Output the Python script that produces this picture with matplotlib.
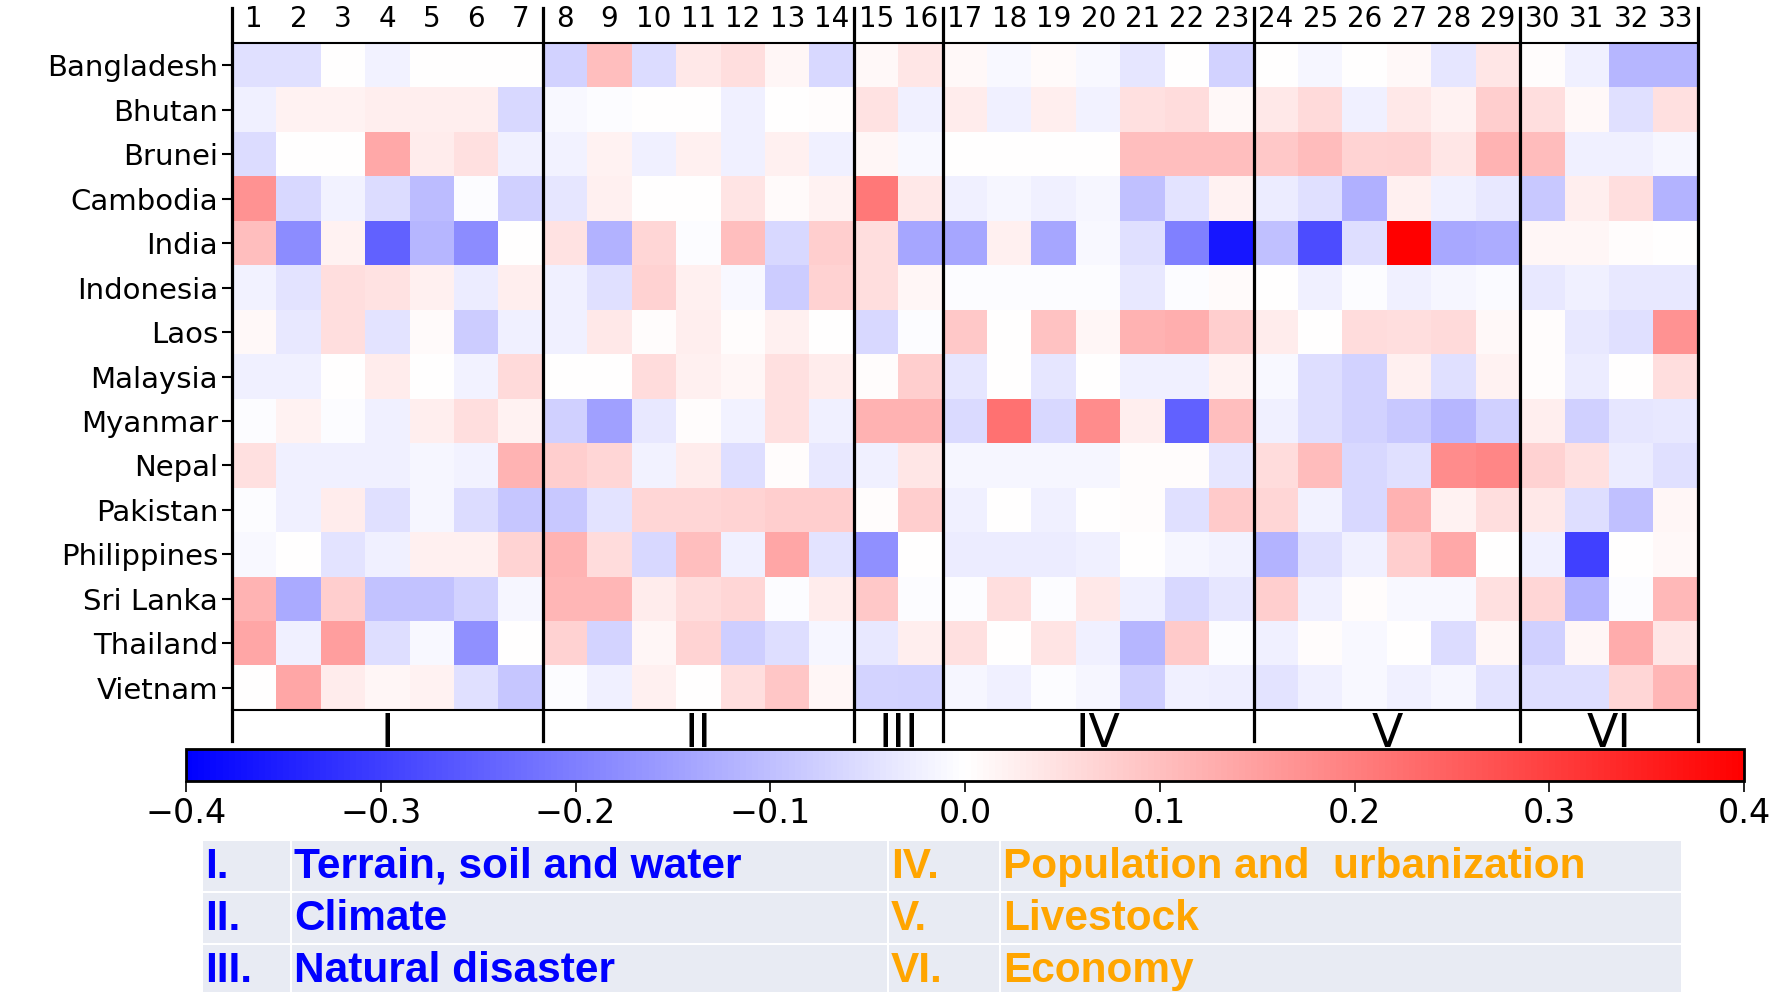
import numpy as np
import matplotlib.pyplot as plt
from matplotlib.patches import Rectangle

W, H = 1787, 992

countries = ['Bangladesh', 'Bhutan', 'Brunei', 'Cambodia', 'India', 'Indonesia', 'Laos',
             'Malaysia', 'Myanmar', 'Nepal', 'Pakistan', 'Philippines', 'Sri Lanka',
             'Thailand', 'Vietnam']
indicators = [str(i) for i in range(1, 34)]
group_labels = ['I', 'II', 'III', 'IV', 'V', 'VI']
group_sizes = [7, 7, 2, 7, 6, 4]
group_numerals = ['I.', 'II.', 'III.', 'IV.', 'V.', 'VI.']
group_names = ['Terrain, soil and water', 'Climate', 'Natural disaster',
               'Population and  urbanization', 'Livestock', 'Economy']

# correlation values per country, indicators 1..33
bangladesh = [-0.05, -0.05, 0.003, -0.02, 0.0, 0.0, 0.0, -0.07, 0.10, -0.055, 0.035, 0.05, 0.015, -0.06,
              0.01, 0.04, 0.01, -0.01, 0.008, -0.01, -0.04, 0.0, -0.07, 0.0, -0.015, 0.0, 0.01, -0.04,
              0.04, 0.005, -0.025, -0.115, -0.115]
bhutan = [-0.025, 0.02, 0.02, 0.025, 0.025, 0.025, -0.06, -0.01, -0.005, 0.0, 0.0, -0.025, 0.0, 0.004,
          0.045, -0.025, 0.03, -0.025, 0.025, -0.02, 0.047, 0.055, 0.01, 0.037, 0.058, -0.025, 0.037, 0.02,
          0.075, 0.05, 0.01, -0.05, 0.047]
brunei = [-0.055, 0.0, 0.0, 0.135, 0.03, 0.047, -0.022, -0.02, 0.02, -0.022, 0.024, -0.022, 0.024, -0.025,
          0.015, -0.01, 0.0, 0.0, 0.0, 0.0, 0.1, 0.1, 0.1, 0.086, 0.105, 0.068, 0.07, 0.04,
          0.118, 0.105, -0.022, -0.022, -0.015]
cambodia = [0.17, -0.06, -0.02, -0.055, -0.105, -0.005, -0.075, -0.04, 0.022, 0.0, 0.0, 0.042, 0.007, 0.02,
            0.21, 0.037, -0.025, -0.015, -0.025, -0.015, -0.1, -0.042, 0.02, -0.03, -0.05, -0.125, 0.022, -0.025,
            -0.035, -0.085, 0.025, 0.05, -0.117]
india = [0.1, -0.18, 0.02, -0.245, -0.115, -0.18, 0.0, 0.045, -0.12, 0.063, -0.005, 0.1, -0.06, 0.075,
         0.05, -0.14, -0.14, 0.022, -0.14, -0.01, -0.047, -0.2, -0.365, -0.1, -0.28, -0.052, 0.4, -0.135,
         -0.13, 0.015, 0.015, 0.005, 0.002]
indonesia = [-0.02, -0.042, 0.052, 0.045, 0.022, -0.03, 0.027, -0.022, -0.05, 0.07, 0.022, -0.01, -0.08, 0.07,
             0.05, 0.015, -0.005, -0.005, -0.005, -0.005, -0.035, -0.005, 0.007, 0.0, -0.022, -0.005, -0.022, -0.015,
             -0.007, -0.035, -0.022, -0.035, -0.035]
laos = [0.01, -0.035, 0.05, -0.042, 0.007, -0.08, -0.025, -0.022, 0.037, 0.005, 0.027, 0.006, 0.024, 0.0,
        -0.06, -0.005, 0.086, 0.0, 0.094, 0.015, 0.12, 0.125, 0.078, 0.031, 0.0, 0.055, 0.052, 0.058,
        0.01, 0.006, -0.035, -0.047, 0.17]
malaysia = [-0.025, -0.025, 0.0, 0.03, 0.0, -0.02, 0.058, 0.0, 0.0, 0.055, 0.022, 0.015, 0.047, 0.03,
            0.006, 0.078, -0.04, 0.0, -0.04, 0.0, -0.025, -0.025, 0.02, -0.01, -0.052, -0.07, 0.022, -0.047,
            0.02, 0.006, -0.03, 0.0, 0.05]
myanmar = [-0.005, 0.02, -0.006, -0.025, 0.027, 0.052, 0.02, -0.075, -0.15, -0.035, 0.005, -0.02, 0.047, -0.022,
           0.12, 0.12, -0.058, 0.22, -0.06, 0.18, 0.027, -0.245, 0.1, -0.022, -0.052, -0.07, -0.085, -0.115,
           -0.075, 0.027, -0.075, -0.04, -0.036]
nepal = [0.047, -0.022, -0.022, -0.022, -0.015, -0.02, 0.118, 0.078, 0.065, -0.02, 0.03, -0.052, 0.006, -0.035,
         -0.022, 0.04, -0.015, -0.015, -0.015, -0.015, 0.006, 0.006, -0.04, 0.055, 0.105, -0.06, -0.047, 0.18,
         0.19, 0.07, 0.047, -0.03, -0.047]
pakistan = [-0.005, -0.022, 0.031, -0.047, -0.015, -0.055, -0.09, -0.085, -0.042, 0.063, 0.063, 0.068, 0.078, 0.078,
            0.004, 0.078, -0.022, 0.0, -0.022, 0.0, 0.004, -0.047, 0.083, 0.063, -0.02, -0.06, 0.12, 0.02,
            0.05, 0.036, -0.052, -0.1, 0.015]
philippines = [-0.01, 0.0, -0.042, -0.022, 0.022, 0.022, 0.068, 0.118, 0.055, -0.06, 0.102, -0.022, 0.14, -0.042,
               -0.172, 0.0, -0.03, -0.03, -0.03, -0.025, 0.0, -0.015, -0.02, -0.117, -0.047, -0.022, 0.078, 0.135,
               0.0, -0.022, -0.3, 0.0, 0.01]
sri_lanka = [0.118, -0.133, 0.078, -0.094, -0.094, -0.07, -0.015, 0.115, 0.115, 0.03, 0.055, 0.063, -0.006, 0.03,
             0.087, -0.005, -0.005, 0.05, -0.005, 0.037, -0.025, -0.06, -0.04, 0.078, -0.022, 0.004, -0.01, -0.01,
             0.047, 0.063, -0.117, -0.005, 0.11]
thailand = [0.14, -0.025, 0.15, -0.052, -0.01, -0.172, 0.0, 0.07, -0.067, 0.015, 0.068, -0.078, -0.052, -0.015,
            -0.035, 0.027, 0.047, 0.0, 0.042, -0.025, -0.115, 0.083, -0.005, -0.025, 0.006, -0.01, 0.0, -0.055,
            0.015, -0.075, 0.015, 0.13, 0.04]
vietnam = [0.0, 0.14, 0.03, 0.015, 0.02, -0.047, -0.09, -0.005, -0.022, 0.022, 0.0, 0.05, 0.09, 0.015,
           -0.067, -0.07, -0.015, -0.025, -0.006, -0.015, -0.078, -0.025, -0.027, -0.042, -0.025, -0.01, -0.025, -0.013,
           -0.042, -0.052, -0.052, 0.063, 0.115]

data = np.array([bangladesh, bhutan, brunei, cambodia, india, indonesia, laos, malaysia, myanmar,
                 nepal, pakistan, philippines, sri_lanka, thailand, vietnam])


def fx(x):
    return x / W


def fy(y):
    return 1 - y / H


fig = plt.figure(figsize=(W / 100, H / 100), dpi=100)

# heatmap
ax = fig.add_axes([fx(232), fy(710), (1698 - 232) / W, (710 - 43) / H])
im = ax.imshow(data, cmap='bwr', vmin=-0.4, vmax=0.4, aspect='auto', interpolation='nearest')
ax.set_yticks(range(len(countries)))
ax.set_yticklabels(countries, fontsize=21)
ax.tick_params(axis='y', length=7, width=1.5, pad=3)
ax.xaxis.tick_top()
ax.set_xticks(range(len(indicators)))
ax.set_xticklabels(indicators, fontsize=20)
ax.tick_params(axis='x', length=0, pad=7)
for side in ['top', 'bottom']:
    ax.spines[side].set_linewidth(1.5)
for side in ['left', 'right']:
    ax.spines[side].set_visible(False)

# group separators and group numerals
bounds = np.concatenate([[0], np.cumsum(group_sizes)]) - 0.5
for b in bounds:
    ax.plot([b, b], [-1.28, 15.2], color='black', lw=2.3, clip_on=False, zorder=5,
            scalex=False, scaley=False)
centers = (bounds[:-1] + bounds[1:]) / 2
for c, g in zip(centers, group_labels):
    ax.text(c, 15.33, g, ha='center', va='baseline', fontsize=33, clip_on=False)
ax.set_xlim(-0.5, len(indicators) - 0.5)
ax.set_ylim(len(countries) - 0.5, -0.5)

# colorbar
cax = fig.add_axes([fx(186), fy(781), (1744 - 186) / W, (781 - 749) / H])
cb = fig.colorbar(im, cax=cax, orientation='horizontal')
ticks = np.round(np.arange(-0.4, 0.41, 0.1), 1)
cb.set_ticks(ticks)
cb.set_ticklabels([f'{t:.1f}'.replace('-', '\u2212') if abs(t) > 1e-9 else '0.0' for t in ticks])
cb.ax.tick_params(labelsize=24, length=8, width=1.2)
cb.outline.set_linewidth(2)

# legend table
col_edges = [(203, 290), (292, 887), (889, 999), (1001, 1681)]
row_edges = [(841, 891), (893, 943), (945, 995)]
for (y0, y1) in row_edges:
    for (x0, x1) in col_edges:
        fig.add_artist(Rectangle((fx(x0), fy(y1)), (x1 - x0) / W, (y1 - y0) / H,
                                 transform=fig.transFigure, facecolor='#e8ebf3', edgecolor='none'))

for i in range(3):
    yc = fy((row_edges[i][0] + row_edges[i][1]) / 2 + 1)
    fig.text(fx(205), yc, group_numerals[i], color='#0000ff', fontsize=30.5, fontweight='bold',
             family='Liberation Sans', va='center')
    fig.text(fx(294), yc, group_names[i], color='#0000ff', fontsize=30.5, fontweight='bold',
             family='Liberation Sans', va='center')
    fig.text(fx(891), yc, group_numerals[i + 3], color='#ffa500', fontsize=30.5, fontweight='bold',
             family='Liberation Sans', va='center')
    fig.text(fx(1003), yc, group_names[i + 3], color='#ffa500', fontsize=30.5, fontweight='bold',
             family='Liberation Sans', va='center')

fig.savefig('out.png', dpi=100)
